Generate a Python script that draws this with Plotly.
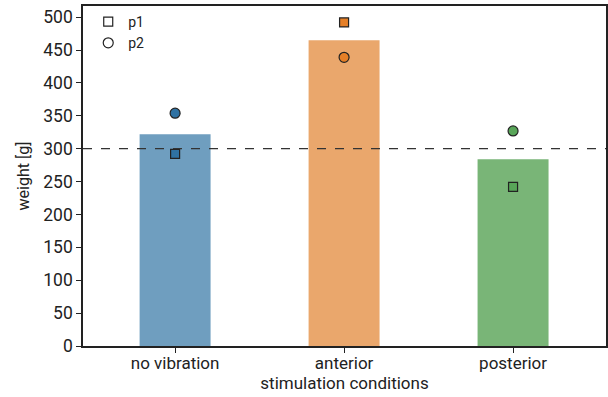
import plotly.graph_objects as go

categories = ["no vibration", "anterior", "posterior"]
bar_values = [322, 465, 284]
p1_values = [292, 492, 242]
p2_values = [354, 439, 327]
bar_colors = ["#6f9ebf", "#eaa76c", "#79b577"]
marker_colors = ["#2f72a3", "#e57f27", "#58a558"]
reference_line = 300

xs = list(range(len(categories)))

fig = go.Figure()
fig.add_trace(go.Bar(x=xs, y=bar_values, marker=dict(color=bar_colors, line=dict(width=0)),
                     width=0.42, showlegend=False))
fig.add_trace(go.Scatter(x=xs, y=p1_values, mode="markers", name="p1",
                         marker=dict(symbol="square", size=9, color=marker_colors,
                                     line=dict(color="#222222", width=1.2)), showlegend=False))
fig.add_trace(go.Scatter(x=xs, y=p2_values, mode="markers", name="p2",
                         marker=dict(symbol="circle", size=10, color=marker_colors,
                                     line=dict(color="#222222", width=1.2)), showlegend=False))
# legend entries
fig.add_trace(go.Scatter(x=[None], y=[None], mode="markers", name="p1",
                         marker=dict(symbol="square", size=9, color="white",
                                     line=dict(color="#222222", width=1.2))))
fig.add_trace(go.Scatter(x=[None], y=[None], mode="markers", name="p2",
                         marker=dict(symbol="circle", size=10, color="white",
                                     line=dict(color="#222222", width=1.2))))

fig.add_shape(type="line", xref="paper", x0=0, x1=1, yref="y", y0=reference_line, y1=reference_line,
              line=dict(color="#333333", width=1.2, dash="dash"))

fig.update_layout(
    width=608, height=397,
    margin=dict(l=83, r=2, t=6, b=51, autoexpand=False),
    plot_bgcolor="white", paper_bgcolor="white",
    font=dict(family="Roboto", size=17, color="#222222"),
    legend=dict(x=0.01, y=1.0, xanchor="left", yanchor="top", bgcolor="rgba(0,0,0,0)",
                font=dict(size=14), itemwidth=30, tracegroupgap=0),
    xaxis=dict(range=[-0.545, 2.55], tickvals=xs, ticktext=categories,
               showline=True, linecolor="#222222", linewidth=1.5, mirror=True,
               ticks="outside", ticklen=5, tickcolor="#222222", tickfont=dict(size=17),
               ticklabelstandoff=-4,
               title=dict(text="stimulation conditions", standoff=0, font=dict(size=17)),
               showgrid=False, zeroline=False, automargin=False),
    yaxis=dict(range=[0, 517], tickvals=list(range(0, 501, 50)),
               showline=True, linecolor="#222222", linewidth=1.5, mirror=True,
               ticks="outside", ticklen=5, tickcolor="#222222", tickfont=dict(size=17.5),
               title=dict(text="weight [g]", standoff=10, font=dict(size=16)),
               showgrid=False, zeroline=False, automargin=False),
)

fig.write_html("out.html", config={"displayModeBar": False},
               post_script="document.body.style.margin='0px';document.body.style.padding='0px';")
